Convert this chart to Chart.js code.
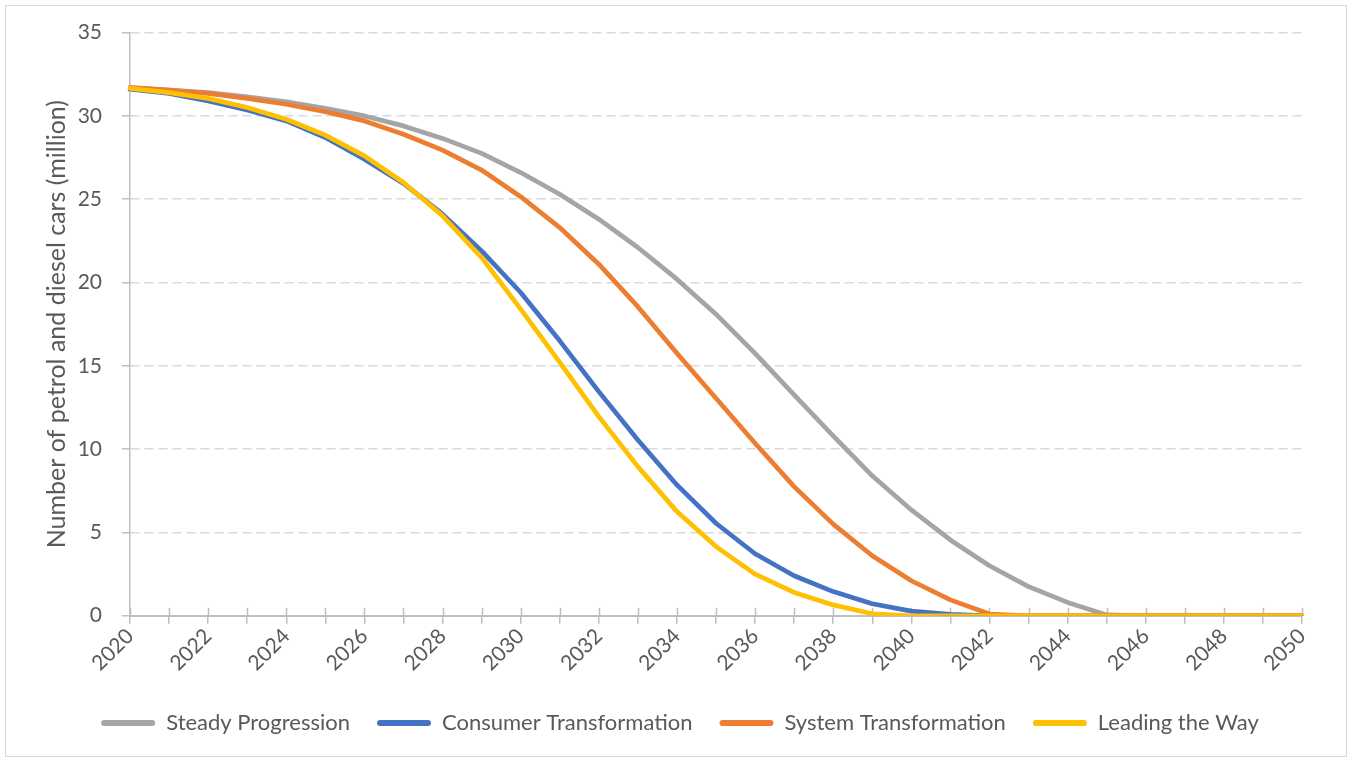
<!DOCTYPE html>
<html>
<head>
<meta charset="utf-8">
<script src="https://cdn.jsdelivr.net/npm/chart.js@4"></script>
<style>
  html, body { margin: 0; padding: 0; background: #fff; }
  #frame { position: absolute; left: 5px; top: 5px; width: 1340px; height: 750px; border: 1px solid #D9D9D9; }
  #wrap { position: absolute; left: 0; top: 0; width: 1352px; height: 759px; }
</style>
</head>
<body>
<div id="frame"></div>
<div id="wrap"><canvas id="chart" width="1352" height="759"></canvas></div>
<script>
const years = [];
for (let y = 2020; y <= 2050; y++) years.push(String(y));

const steadyProgression = [31.7, 31.55, 31.4, 31.15, 30.85, 30.45, 30.0, 29.4, 28.65, 27.75,
  26.6, 25.3, 23.8, 22.1, 20.2, 18.1, 15.75, 13.25, 10.8, 8.4,
  6.35, 4.55, 3.0, 1.75, 0.8, 0.05, 0, 0, 0, 0, 0];
const consumerTransformation = [31.6, 31.35, 30.9, 30.35, 29.7, 28.7, 27.4, 25.95, 24.1, 21.9,
  19.4, 16.5, 13.45, 10.55, 7.85, 5.55, 3.72, 2.4, 1.45, 0.72,
  0.28, 0.08, 0, 0, 0, 0, 0, 0, 0, 0, 0];
const systemTransformation = [31.7, 31.55, 31.35, 31.05, 30.7, 30.25, 29.7, 28.9, 27.95, 26.75,
  25.15, 23.3, 21.1, 18.55, 15.75, 13.05, 10.35, 7.75, 5.5, 3.6,
  2.1, 0.95, 0.1, 0, 0, 0, 0, 0, 0, 0, 0];
const leadingTheWay = [31.65, 31.4, 31.05, 30.5, 29.8, 28.85, 27.6, 26.0, 24.0, 21.5,
  18.4, 15.2, 11.95, 8.95, 6.25, 4.15, 2.5, 1.4, 0.65, 0.12,
  0, 0, 0, 0, 0, 0, 0, 0, 0, 0, 0];

const yTicks = [0, 5, 10, 15, 20, 25, 30, 35];

Chart.defaults.font.family = 'Lato, "Open Sans", sans-serif';
Chart.defaults.font.size = 21;
Chart.defaults.color = '#595959';

function series(label, data, color, order) {
  return {
    label: label,
    data: data,
    borderColor: color,
    backgroundColor: color,
    borderWidth: 4.7,
    pointRadius: 0,
    tension: 0,
    borderCapStyle: 'round',
    borderJoinStyle: 'round',
    order: order
  };
}

// small tick marks across the x axis, like the original
const innerTicks = {
  id: 'innerTicks',
  beforeDatasetsDraw(chart) {
    const x = chart.scales.x;
    const ctx = chart.ctx;
    ctx.save();
    ctx.strokeStyle = '#BFBFBF';
    ctx.lineWidth = 1.5;
    ctx.beginPath();
    for (let i = 0; i < x.ticks.length; i++) {
      const px = Math.round(x.getPixelForTick(i)) + 0.5;
      ctx.moveTo(px, x.top - 8);
      ctx.lineTo(px, x.top);
    }
    ctx.stroke();
    ctx.restore();
  }
};

new Chart(document.getElementById('chart'), {
  type: 'line',
  data: {
    labels: years,
    datasets: [
      series('Steady Progression', steadyProgression, '#A5A5A5', 4),
      series('Consumer Transformation', consumerTransformation, '#4472C4', 3),
      series('System Transformation', systemTransformation, '#ED7D31', 2),
      series('Leading the Way', leadingTheWay, '#FFC000', 1)
    ]
  },
  options: {
    responsive: false,
    animation: false,
    layout: { padding: { left: 58, right: 50, top: 31, bottom: 15 } },
    plugins: {
      tooltip: { enabled: false },
      legend: {
        position: 'bottom',
        labels: {
          boxWidth: 54,
          boxHeight: 6,
          useBorderRadius: true,
          borderRadius: 3,
          padding: 27,
          color: '#595959',
          font: { size: 22 },
          sort: (a, b) => a.datasetIndex - b.datasetIndex,
          generateLabels: (chart) =>
            Chart.defaults.plugins.legend.labels.generateLabels(chart).map(l => Object.assign(l, { lineWidth: 0 }))
        }
      }
    },
    scales: {
      x: {
        offset: false,
        afterFit: (s) => { s.height += 9; },
        grid: { display: true, drawOnChartArea: false, drawTicks: true, tickLength: 8, color: '#BFBFBF', lineWidth: 1.5 },
        border: { display: true, color: '#BFBFBF', width: 2 },
        ticks: {
          autoSkip: false,
          minRotation: 45,
          maxRotation: 45,
          padding: 0,
          color: '#595959',
          font: { size: 21 },
          callback: function (v, i) { return i % 2 === 0 ? years[i] : ''; }
        }
      },
      y: {
        min: 0,
        max: 35,
        afterBuildTicks: (s) => { s.ticks = yTicks.map(v => ({ value: v })); },
        afterFit: (s) => { s.width = 72; },
        grid: {
          color: '#D9D9D9',
          lineWidth: 1.5,
          drawTicks: true,
          tickLength: 8,
          tickColor: '#BFBFBF',
          tickBorderDash: []
        },
        border: { display: true, color: '#BFBFBF', width: 1.5, dash: [9, 5] },
        ticks: { padding: 20, color: '#595959', font: { size: 21 } },
        title: {
          display: true,
          text: 'Number of petrol and diesel cars (million)',
          color: '#595959',
          font: { size: 25 },
          padding: { top: -16, bottom: 0 }
        }
      }
    }
  },
  plugins: [innerTicks]
});
</script>
</body>
</html>
